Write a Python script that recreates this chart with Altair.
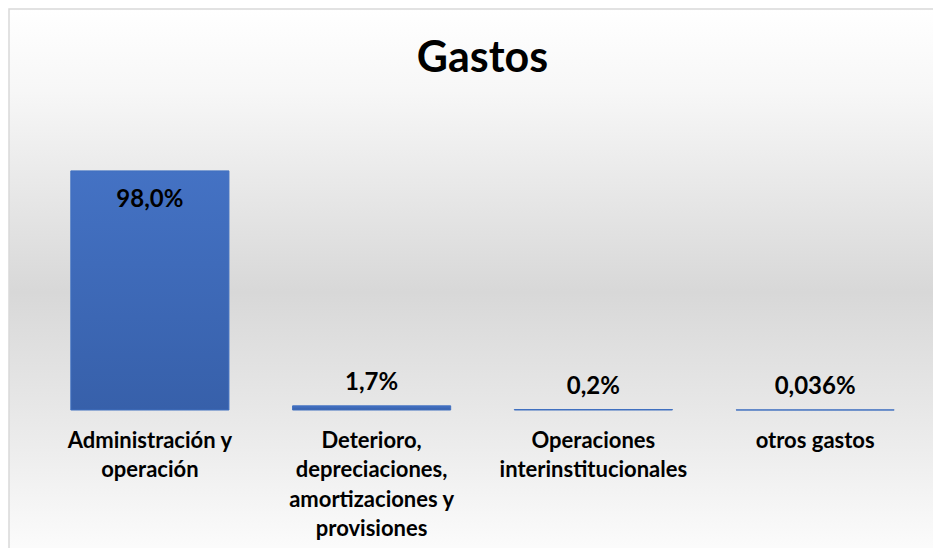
import altair as alt
import pandas as pd

categories = [
    "Administración y\noperación",
    "Deterioro,\ndepreciaciones,\namortizaciones y\nprovisiones",
    "Operaciones\ninterinstitucionales",
    "otros gastos",
]
values = [0.980, 0.017, 0.002, 0.00036]
labels = ["98,0%", "1,7%", "0,2%", "0,036%"]

df = pd.DataFrame({"categoria": categories, "valor": values, "etiqueta": labels})

FONT = "Lato"
W, H = 887, 244
PAD_L, PAD_T, PAD_R, PAD_B = 31, 158, 7, 138

bg = alt.Chart(pd.DataFrame({"k": [0]})).mark_rect(
    clip=False,
    stroke="#d9d9d9",
    strokeWidth=1.5,
    color=alt.Gradient(
        gradient="linear", x1=0, y1=0, x2=0, y2=1,
        stops=[
            alt.GradientStop(offset=0, color="#ffffff"),
            alt.GradientStop(offset=0.15, color="#f7f7f7"),
            alt.GradientStop(offset=0.52, color="#d8d8d8"),
            alt.GradientStop(offset=0.8, color="#ececec"),
            alt.GradientStop(offset=1, color="#fcfcfc"),
        ],
    ),
).encode(
    x=alt.value(-PAD_L + 1),
    x2=alt.value(W + PAD_R + 12),
    y=alt.value(-PAD_T + 1),
    y2=alt.value(H + PAD_B + 5),
)

xenc = alt.X(
    "categoria:N",
    sort=categories,
    scale=alt.Scale(paddingInner=0.287, paddingOuter=0.1435),
    axis=alt.Axis(
        title=None,
        labelAngle=0,
        labelExpr="split(datum.label, '\\n')",
        labelFont=FONT,
        labelFontSize=22,
        labelFontWeight="bold",
        labelColor="#000000",
        labelLineHeight=29.5,
        labelBaseline="top",
        labelPadding=20,
        labelLimit=300,
        ticks=False,
        domain=False,
        grid=False,
        zindex=2,
    ),
)
yenc = alt.Y("valor:Q", scale=alt.Scale(domain=[0, 1]), axis=None)

bars = alt.Chart(df).mark_bar(
    stroke="#4070c0",
    strokeWidth=1,
    color=alt.Gradient(
        gradient="linear", x1=0, y1=0, x2=0, y2=1,
        stops=[
            alt.GradientStop(offset=0, color="#4472c4"),
            alt.GradientStop(offset=1, color="#3760aa"),
        ],
    ),
).encode(x=xenc, y=yenc)

inside = alt.Chart(df).transform_filter("datum.valor > 0.5").mark_text(
    font=FONT, fontSize=24, fontWeight="bold", color="#000000",
    baseline="middle", dy=29,
).encode(x=xenc, y=yenc, text="etiqueta:N")

outside = alt.Chart(df).transform_filter("datum.valor <= 0.5").mark_text(
    font=FONT, fontSize=24, fontWeight="bold", color="#000000",
    baseline="middle", dy=-23,
).encode(x=xenc, y=yenc, text="etiqueta:N")

chart = alt.layer(bg, bars, inside, outside).properties(
    width=W,
    height=H,
    title=alt.TitleParams(
        "Gastos",
        font=FONT,
        fontSize=43,
        fontWeight="bold",
        color="#000000",
        anchor="middle",
        frame="group",
        baseline="alphabetic",
        offset=-107,
        zindex=2,
    ),
    autosize=alt.AutoSizeParams(type="none"),
    padding={"left": PAD_L, "top": PAD_T, "right": PAD_R, "bottom": PAD_B},
).configure_view(stroke=None).configure(background="#ffffff")

chart.save("out.html", embed_options={"renderer": "svg", "actions": False})
